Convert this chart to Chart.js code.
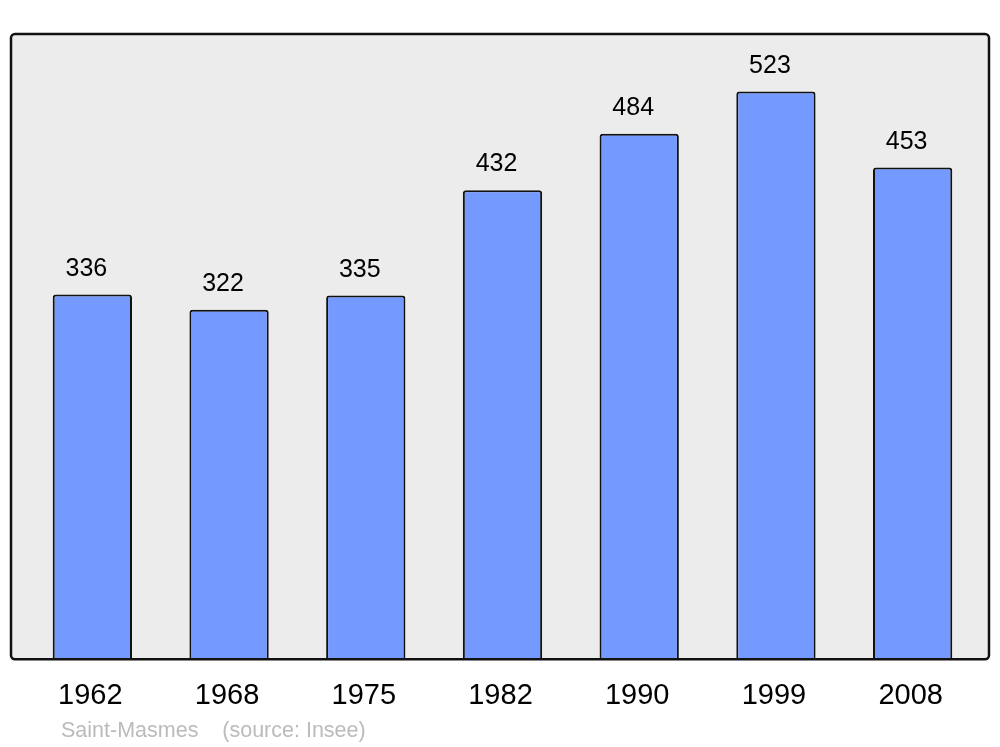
<!DOCTYPE html>
<html>
<head>
<meta charset="utf-8">
<script src="https://cdn.jsdelivr.net/npm/chart.js@4"></script>
<style>
  html, body { margin: 0; padding: 0; background: #fff; }
  #wrap { width: 1000px; height: 747px; }
</style>
</head>
<body>
<div id="wrap"><canvas id="popChart"></canvas></div>
<script>
// population per census year
const years = ['1962', '1968', '1975', '1982', '1990', '1999', '2008']
const population = [336, 322, 335, 432, 484, 523, 453]
const caption = 'Saint-Masmes    (source: Insee)'

const frame = {
  id: 'frame',
  beforeDatasetsDraw(chart) {
    const a = chart.chartArea, ctx = chart.ctx
    ctx.save()
    ctx.beginPath()
    ctx.roundRect(a.left - 13, a.top, a.right - a.left + 21, a.bottom - a.top, 4)
    ctx.fillStyle = '#ececec'
    ctx.fill()
    ctx.restore()
  },
  afterDatasetsDraw(chart) {
    const a = chart.chartArea, ctx = chart.ctx
    ctx.save()
    ctx.beginPath()
    ctx.roundRect(a.left - 13, a.top, a.right - a.left + 21, a.bottom - a.top, 4)
    ctx.lineWidth = 2.5
    ctx.strokeStyle = '#111'
    ctx.stroke()

    // value labels above bars
    ctx.fillStyle = '#000'
    ctx.font = '25px "Liberation Sans", Arial, sans-serif'
    ctx.textAlign = 'center'
    ctx.textBaseline = 'alphabetic'
    chart.getDatasetMeta(0).data.forEach((bar, i) => {
      ctx.fillText(population[i], bar.x - 6, bar.y - 19)
    })

    ctx.fillStyle = '#bbbbbb'
    ctx.font = '21.5px "Liberation Sans", Arial, sans-serif'
    ctx.textAlign = 'left'
    ctx.fillText(caption, 61, 737)
    ctx.restore()
  }
}

new Chart(document.getElementById('popChart').getContext('2d'), {
  type: 'bar',
  data: {
    labels: years,
    datasets: [{
      data: population,
      backgroundColor: '#7499ff',
      borderColor: '#111',
      borderWidth: 2,
      borderRadius: 3,
      borderSkipped: 'start',
      barPercentage: 0.58,
      categoryPercentage: 1
    }]
  },
  options: {
    responsive: true,
    maintainAspectRatio: false,
    animation: false,
    layout: { padding: { left: 24, right: 19, top: 34, bottom: 15 } },
    plugins: { legend: { display: false }, tooltip: { enabled: false } },
    scales: {
      x: {
        grid: { display: false, drawTicks: false },
        border: { display: false },
        ticks: {
          color: '#000',
          padding: 19,
          labelOffset: -2,
          font: { family: '"Liberation Sans", Arial, sans-serif', size: 29 }
        }
      },
      y: { display: false, min: 0, max: 576 }
    }
  },
  plugins: [frame]
})
</script>
</body>
</html>
